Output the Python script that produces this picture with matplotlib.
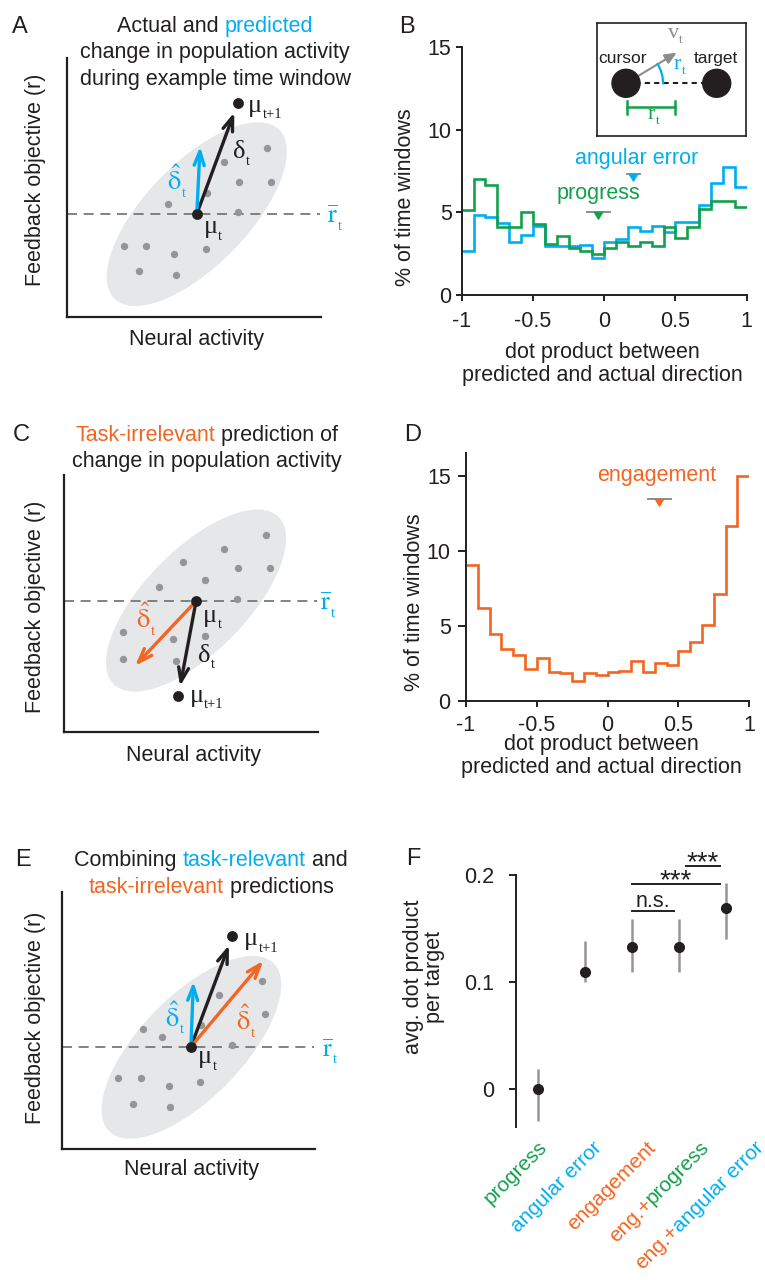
import numpy as np
import matplotlib
matplotlib.use("Agg")
import matplotlib.pyplot as plt
from matplotlib.patches import Ellipse, Circle
from matplotlib.path import Path
import matplotlib.transforms as mtransforms

plt.rcParams['font.family'] = ['Liberation Sans', 'DejaVu Sans']
plt.rcParams['mathtext.fontset'] = 'stix'

INK = '#231f20'
BLUE = '#00aeef'
GREEN = '#12a04c'
ORANGE = '#f26522'
DOT_GRAY = '#939598'
CLOUD = '#e6e7e8'
DASH_GRAY = '#6d6e71'
BAR_GRAY = '#808285'
SERIF = ['Liberation Serif', 'DejaVu Serif']
FS = 15.5

# ---------------- histogram data (% of time windows per bin) ----------------
bin_edges = np.linspace(-1, 1, 25)
pct_angular_error = [2.7, 4.86, 4.7, 4.36, 3.2, 3.65, 4.2, 2.95, 3.0, 3.0, 3.05, 2.25,
                     3.2, 3.4, 4.15, 3.85, 4.2, 3.8, 4.4, 4.4, 5.46, 6.8, 7.73, 6.53]
pct_progress = [5.15, 7.0, 6.63, 4.12, 4.12, 5.0, 4.3, 3.1, 3.6, 2.85, 2.65, 2.5,
                2.85, 3.2, 2.95, 3.2, 3.0, 4.15, 3.45, 4.15, 5.2, 5.72, 5.66, 5.3]
pct_engagement = [9.04, 6.16, 4.44, 3.47, 3.04, 2.13, 2.89, 1.93, 1.89, 1.33, 1.89, 1.71,
                  1.93, 2.0, 2.64, 1.93, 2.53, 2.42, 3.31, 3.91, 5.09, 7.09, 11.64, 15.0]

# mean dot product (x), its spread, and marker height
angular_mean, angular_spread, angular_height = 0.204, 0.045, 7.32
progress_mean, progress_spread, progress_height = -0.041, 0.08, 5.05
engagement_mean, engagement_spread, engagement_height = 0.365, 0.083, 13.43

# ---------------- panel F data ----------------
decoders = ['progress', 'angular error', 'engagement', 'eng.+progress', 'eng.+angular error']
avg_dot = [0.0, 0.11, 0.133, 0.133, 0.1695]
ci_low = [-0.029, 0.10, 0.11, 0.11, 0.14]
ci_high = [0.019, 0.1385, 0.159, 0.159, 0.1925]
label_parts = [[('progress', GREEN)],
               [('angular error', BLUE)],
               [('engagement', ORANGE)],
               [('eng.+', ORANGE), ('progress', GREEN)],
               [('eng.+', ORANGE), ('angular error', BLUE)]]
# significance brackets: (x start, x end, height, text)
brackets = [(2.0, 2.9, 0.166, 'n.s.'),
            (2.0, 3.87, 0.1915, '***'),
            (3.15, 3.87, 0.208, '***')]

# ---------------- schematic data (arbitrary units, 0..10) ----------------
A_cloud = np.array([(7.86, 6.51), (6.19, 5.97), (6.77, 5.22), (8.02, 5.22), (5.50, 4.80),
                    (3.96, 4.36), (6.72, 4.05), (2.24, 2.75), (3.11, 2.75), (4.21, 2.43),
                    (5.46, 2.61), (2.82, 1.78), (4.28, 1.62)])
A_center = (5.11, 3.97)
A_mu_t = (5.11, 3.98)
A_mu_next = (6.72, 8.25)
A_pred_relevant = (5.24, 6.58)

C_cloud = np.array([(7.95, 7.66), (6.31, 7.11), (4.70, 6.61), (6.86, 6.37), (8.11, 6.37),
                    (5.56, 5.91), (3.74, 5.63), (6.82, 5.16), (2.33, 3.87), (4.30, 3.60),
                    (5.56, 3.72), (2.33, 2.82), (4.40, 2.75)])
C_center = (5.20, 5.11)
C_mu_t = (5.20, 5.09)
C_mu_next = (4.50, 1.40)
C_pred_irrelevant = (2.80, 2.57)

E_cloud = np.array([(7.90, 6.53), (6.21, 5.99), (8.04, 5.25), (5.50, 4.83), (3.20, 4.66),
                    (3.97, 4.35), (6.74, 4.05), (2.23, 2.76), (3.13, 2.76), (4.24, 2.46),
                    (5.47, 2.60), (2.81, 1.76), (4.29, 1.63)])
E_center = (5.12, 3.96)
E_mu_t = (5.10, 3.98)
E_mu_next = (6.74, 8.28)
E_pred_relevant = (5.20, 6.51)
E_pred_irrelevant = (7.96, 7.32)

# symbol glyphs and their subscripts
MU = ('μ', 't')
MU_NEXT = ('μ', 't+1')
DELTA = ('δ', 't')
DELTA_HAT = (r'$\hat{\mathrm{δ}}$', 't')
R_BAR = (r'$\overline{\mathrm{r}}$', 't')

# ---------------- figure helpers ----------------
W, H = 765, 1280
fig = plt.figure(figsize=(W / 100, H / 100), dpi=100)
renderer = fig.canvas.get_renderer()


def axes_px(x0, y0, x1, y1):
    return fig.add_axes([x0 / W, 1 - y1 / H, (x1 - x0) / W, (y1 - y0) / H])


def ftext(x, y, s, **kw):
    kw.setdefault('fontsize', FS)
    kw.setdefault('color', INK)
    return fig.text(x / W, 1 - y / H, s, **kw)


def text_w(s, size):
    t = fig.text(0, 0, s, fontsize=size)
    w = t.get_window_extent(renderer).width
    t.remove()
    return w


def adv(s, size):
    return text_w(s + '|', size) - text_w('|', size)


def colored_line(xc, yb, parts, size=FS):
    total = adv(''.join(p for p, _ in parts), size)
    x = xc - total / 2
    for p, c in parts:
        ftext(x, yb, p, color=c, fontsize=size, ha='left', va='baseline')
        x += adv(p, size)


def symbol(ax, x, y, sym, color, size=19, sub_size=10.5, drop=6.5, gap=0.5):
    main, sub = sym
    t = ax.text(x, y, main, color=color, fontsize=size, family=SERIF,
                ha='left', va='baseline', clip_on=False, zorder=6)
    bb = t.get_window_extent(renderer)
    _, yd = ax.transData.transform((x, y))
    fig.text((bb.x1 + gap) / W, (yd - drop) / H, sub, color=color, fontsize=sub_size,
             family=SERIF, ha='left', va='baseline', zorder=6)


def arrow(ax, start, tip, color, shrink_tip=0):
    ax.annotate('', xy=tip, xytext=start,
                arrowprops=dict(arrowstyle='->,head_length=0.5,head_width=0.18',
                                mutation_scale=20, lw=2.4, color=color,
                                shrinkA=0, shrinkB=shrink_tip),
                zorder=4)


def schematic(box, cloud, center, mu_t, mu_next, preds, labels, xlabel_base, ylabel_mid):
    ax = axes_px(*box)
    ax.set_xlim(0, 10)
    ax.set_ylim(0, 10)
    for s in ['top', 'right']:
        ax.spines[s].set_visible(False)
    for s in ['left', 'bottom']:
        ax.spines[s].set_linewidth(1.6)
        ax.spines[s].set_color(INK)
    ax.set_xticks([])
    ax.set_yticks([])
    ax.add_patch(Ellipse(center, width=9.2, height=4.0, angle=45, fc=CLOUD, ec='none', zorder=0))
    ax.plot([0, 9.95], [mu_t[1], mu_t[1]], color=DASH_GRAY, lw=1.2,
            ls=(0, (6, 4)), zorder=1, clip_on=False)
    ax.scatter(cloud[:, 0], cloud[:, 1], s=28, color=DOT_GRAY, zorder=2, lw=0)
    arrow(ax, mu_t, mu_next, INK, shrink_tip=7)
    for tip, col in preds:
        arrow(ax, mu_t, tip, col)
    ax.plot([mu_t[0], mu_next[0]], [mu_t[1], mu_next[1]], 'o', ms=7.8, color=INK,
            zorder=5, mew=0)
    for x, y, sym, c in labels:
        symbol(ax, x, y, sym, c)
    xmid = (box[0] + box[2]) / 2 + 3
    ftext(xmid, xlabel_base, 'Neural activity', ha='center', va='baseline')
    ftext(36, ylabel_mid, 'Feedback objective (r)', ha='center', va='center', rotation=90)
    return ax


# ---------------- panel A ----------------
ftext(12, 33.3, 'A', fontsize=17, ha='left', va='baseline')
colored_line(215, 32.3, [('Actual and ', INK), ('predicted', BLUE)])
colored_line(215, 58.3, [('change in population activity', INK)])
colored_line(215, 85, [('during example time window', INK)])
schematic((67, 58, 321, 317), A_cloud, A_center, A_mu_t, A_mu_next,
          [(A_pred_relevant, BLUE)],
          [(7.13, 7.92, MU_NEXT, INK), (6.55, 6.13, DELTA, INK),
           (3.92, 4.90, DELTA_HAT, BLUE), (5.37, 3.23, MU, INK),
           (10.22, 3.62, R_BAR, BLUE)],
          345, 180)

# ---------------- panel C ----------------
ftext(12.7, 440.7, 'C', fontsize=17, ha='left', va='baseline')
colored_line(206.7, 440.7, [('Task-irrelevant', ORANGE), (' prediction of', INK)])
colored_line(206.7, 466.7, [('change in population activity', INK)])
schematic((64, 475, 318, 731.7), C_cloud, C_center, C_mu_t, C_mu_next,
          [(C_pred_irrelevant, ORANGE)],
          [(2.83, 4.03, DELTA_HAT, ORANGE), (5.48, 4.29, MU, INK),
           (5.29, 2.73, DELTA, INK), (4.94, 1.17, MU_NEXT, INK),
           (10.08, 4.74, R_BAR, BLUE)],
          761, 606.7)

# ---------------- panel E ----------------
ftext(15, 865.7, 'E', fontsize=17, ha='left', va='baseline')
colored_line(211, 865.7, [('Combining ', INK), ('task-relevant', BLUE), (' and', INK)])
colored_line(211, 892.7, [('task-irrelevant', ORANGE), (' predictions', INK)])
schematic((61.7, 891.7, 315, 1149.3), E_cloud, E_center, E_mu_t, E_mu_next,
          [(E_pred_relevant, BLUE), (E_pred_irrelevant, ORANGE)],
          [(7.20, 7.93, MU_NEXT, INK), (4.08, 4.76, DELTA_HAT, BLUE),
           (6.87, 4.63, DELTA_HAT, ORANGE), (5.39, 3.34, MU, INK),
           (10.26, 3.59, R_BAR, BLUE)],
          1175, 1018.3)

# ---------------- histogram helpers ----------------
tri_down = Path([(-0.6, 0), (0.6, 0), (0, -1), (-0.6, 0)],
                [Path.MOVETO, Path.LINETO, Path.LINETO, Path.CLOSEPOLY])


def style_hist_axes(ax, ymax, ypad, ylen, xpad):
    ax.set_xlim(-1, 1)
    ax.set_ylim(0, ymax)
    for s in ['top', 'right']:
        ax.spines[s].set_visible(False)
    for s in ['left', 'bottom']:
        ax.spines[s].set_linewidth(1.4)
        ax.spines[s].set_color(INK)
    ax.set_xticks([-1, -0.5, 0, 0.5, 1])
    ax.set_xticklabels(['-1', '-0.5', '0', '0.5', '1'])
    ax.set_yticks([0, 5, 10, 15])
    ax.tick_params(axis='both', direction='out', width=1.4, colors=INK, labelsize=FS)
    ax.tick_params(axis='y', length=ylen, pad=ypad)
    ax.tick_params(axis='x', length=4.3, pad=xpad)
    ax.patch.set_alpha(0)


def mean_marker(ax, x, spread, y, color):
    ax.plot([x - spread, x + spread], [y, y], color=BAR_GRAY, lw=1.3, zorder=3)
    ax.plot([x], [y], marker=tri_down, ms=9.5, color=color, ls='none', zorder=4)


# ---------------- panel B ----------------
ftext(399.3, 33.3, 'B', fontsize=17, ha='left', va='baseline')
axB = axes_px(461.7, 46.7, 746.7, 295.3)
style_hist_axes(axB, 15, 3, 4.3, 7)
axB.stairs(pct_angular_error, bin_edges, baseline=None, color=BLUE, lw=1.9)
axB.stairs(pct_progress, bin_edges, baseline=None, color=GREEN, lw=1.9)
mean_marker(axB, angular_mean, angular_spread, angular_height, BLUE)
mean_marker(axB, progress_mean, progress_spread, progress_height, GREEN)
axB.text(0.23, 7.9, 'angular error', color=BLUE, fontsize=FS, ha='center', va='baseline')
axB.text(-0.043, 5.81, 'progress', color=GREEN, fontsize=FS, ha='center', va='baseline')
ftext(405.7, 197.5, '% of time windows', ha='center', va='center', rotation=90)
ftext(602, 358, 'dot product between', ha='center', va='baseline')
ftext(602, 380.7, 'predicted and actual direction', ha='center', va='baseline')

# inset: cursor / target geometry
axI = axes_px(596.7, 23.3, 745.7, 135.7)
axI.set_xlim(0, 149)
axI.set_ylim(112.4, 0)
axI.set_xticks([])
axI.set_yticks([])
for s in axI.spines.values():
    s.set_linewidth(1.2)
    s.set_color(INK)
cursor_xy, target_xy, disc_r = (29.3, 60), (120, 60), 14
axI.plot([cursor_xy[0], target_xy[0]], [60, 60], color=INK, lw=1.5, ls=(0, (2.5, 2)), zorder=1)
axI.annotate('', xy=(80, 29.4), xytext=cursor_xy,
             arrowprops=dict(arrowstyle='-|>,head_length=0.5,head_width=0.22',
                             mutation_scale=14, lw=1.5, color='#8a8c8e',
                             shrinkA=0, shrinkB=0), zorder=2)
axI.add_patch(Circle(cursor_xy, disc_r, color=INK, zorder=3))
axI.add_patch(Circle(target_xy, disc_r, color=INK, zorder=3))
theta = np.radians(np.linspace(0, 31, 40))
axI.plot(cursor_xy[0] + 37 * np.cos(theta), cursor_xy[1] - 37 * np.sin(theta),
         color=BLUE, lw=1.6, zorder=2)
axI.plot([30, 78.3], [84, 84], color=GREEN, lw=1.8)
axI.plot([30, 30], [77.5, 90.5], color=GREEN, lw=1.8)
axI.plot([78.3, 78.3], [77.5, 90.5], color=GREEN, lw=1.8)
axI.text(26, 40, 'cursor', fontsize=12.5, color=INK, ha='center', va='baseline')
axI.text(119.3, 40, 'target', fontsize=12.5, color=INK, ha='center', va='baseline')
symbol(axI, 71, 15, ('v', 't'), '#8a8c8e', size=16, sub_size=9.5, drop=5)
symbol(axI, 77, 46, ('r', 't'), BLUE, size=16, sub_size=9.5, drop=5)
symbol(axI, 51, 96, ('r', 't'), GREEN, size=16, sub_size=9.5, drop=5)

# ---------------- panel D ----------------
ftext(404, 440.7, 'D', fontsize=17, ha='left', va='baseline')
axD = axes_px(466, 452.7, 749.3, 701)
style_hist_axes(axD, 16.53, 5, 6, 5.5)
axD.stairs(pct_engagement, bin_edges, baseline=None, color=ORANGE, lw=1.9)
mean_marker(axD, engagement_mean, engagement_spread, engagement_height, ORANGE)
axD.text(0.343, 14.67, 'engagement', color=ORANGE, fontsize=FS, ha='center', va='baseline')
ftext(414, 601.7, '% of time windows', ha='center', va='center', rotation=90)
ftext(601.7, 750, 'dot product between', ha='center', va='baseline')
ftext(601.7, 773.3, 'predicted and actual direction', ha='center', va='baseline')

# ---------------- panel F ----------------
ftext(406, 865, 'F', fontsize=17, ha='left', va='baseline')
axF = axes_px(516, 875, 750, 1127)
xpos = np.arange(len(decoders))
axF.set_xlim(-0.468, 4.51)
axF.set_ylim(-0.035, 0.2)
for s in ['top', 'right', 'bottom']:
    axF.spines[s].set_visible(False)
axF.spines['left'].set_linewidth(1.4)
axF.spines['left'].set_color(INK)
axF.set_xticks([])
axF.set_yticks([0, 0.1, 0.2])
axF.set_yticklabels(['0', '0.1', '0.2'])
axF.tick_params(axis='y', direction='out', length=5, width=1.4, pad=11,
                colors=INK, labelsize=FS)
axF.patch.set_alpha(0)
yerr = [np.array(avg_dot) - np.array(ci_low), np.array(ci_high) - np.array(avg_dot)]
axF.errorbar(xpos, avg_dot, yerr=yerr, fmt='none', ecolor=DOT_GRAY, elinewidth=1.8,
             capsize=0, zorder=2)
axF.plot(xpos, avg_dot, 'o', ms=8, color=INK, mew=0, zorder=3)
for x0, x1, yb, s in brackets:
    axF.plot([x0, x1], [yb, yb], color=INK, lw=1.4, clip_on=False)
    if s == 'n.s.':
        axF.text((x0 + x1) / 2, yb + 0.0045, s, fontsize=FS, color=INK,
                 ha='center', va='baseline', clip_on=False)
    else:
        axF.text((x0 + x1) / 2, yb - 0.0035, s, fontsize=20, color=INK,
                 ha='center', va='baseline', clip_on=False)
ftext(424, 977, 'avg. dot product\nper target', ha='center', va='center',
      rotation=90, linespacing=1.05)

# rotated, multi-coloured category labels
LFS = 15
ang = np.radians(45)
label_y = -0.055
for i, parts in enumerate(label_parts):
    xa = 0.22 + 1.15 * i
    suffix = 0.0
    for p, c in reversed(parts):
        off = mtransforms.ScaledTranslation(-suffix * np.cos(ang) / 100,
                                            -suffix * np.sin(ang) / 100,
                                            fig.dpi_scale_trans)
        axF.text(xa, label_y, p, color=c, fontsize=LFS, rotation=45,
                 rotation_mode='anchor', ha='right', va='baseline',
                 transform=axF.transData + off, clip_on=False)
        suffix += adv(p, LFS)

fig.savefig('out.png', dpi=100)
